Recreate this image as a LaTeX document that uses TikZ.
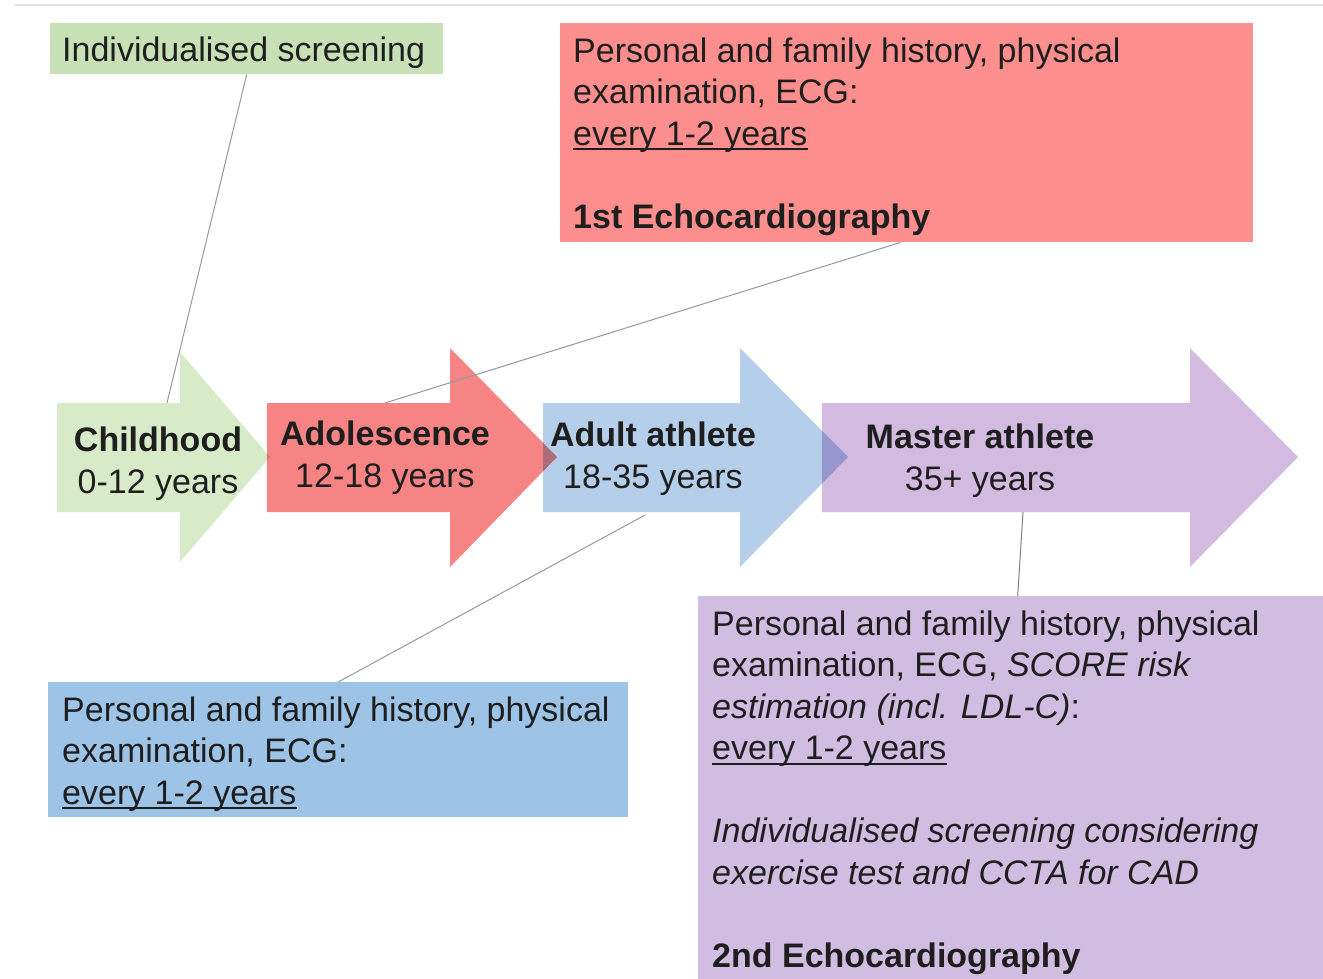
\documentclass[tikz,border=0pt]{standalone}
\usepackage{fontspec}
\setmainfont{Liberation Sans}
% underline that sits just below the baseline
\newcommand\undl[1]{\leavevmode\setbox0=\hbox{#1}\rlap{\rule[-5pt]{\wd0}{1.8pt}}\box0}
\definecolor{ink}{HTML}{1E1E1E}
\definecolor{gboxc}{HTML}{C8E0B5}
\definecolor{rboxc}{HTML}{FD8E8E}
\definecolor{bboxc}{HTML}{9DC4E6}
\definecolor{pboxc}{HTML}{D2BDE2}
\definecolor{garrow}{HTML}{D8EBC8}
\definecolor{rarrow}{HTML}{F68484}
\definecolor{barrow}{HTML}{B5CFEA}
\definecolor{parrow}{HTML}{D3BAE0}
\definecolor{leadgray}{HTML}{8F9AA8}
\definecolor{topline}{HTML}{E2E2E2}
\begin{document}
% multi-line nodes are placed by the baseline of their last line
\begin{tikzpicture}[x=1pt,y=-1pt,
  txt/.style={inner sep=0pt, text=ink, font=\fontsize{34}{41.5}\selectfont, align=left, anchor=base west},
  lbl/.style={inner sep=0pt, text=ink, font=\fontsize{34}{42}\selectfont, align=center, anchor=base},
  notebox/.style={draw=none, inner sep=0pt, anchor=north west},
  leader/.style={draw=leadgray, line width=1pt}]
\useasboundingbox (0,0) rectangle (1323,979);
\fill[white] (0,0) rectangle (1323,979);
\draw[line width=2.5pt, color=topline] (15,5) -- (1323,5);

% note boxes
\node[notebox, fill=gboxc, minimum width=393pt, minimum height=51pt] (gnote) at (50,23) {};
\node[notebox, fill=rboxc, minimum width=693pt, minimum height=219pt] (rnote) at (560,23) {};
\node[notebox, fill=bboxc, minimum width=580pt, minimum height=135pt] (bnote) at (48,682) {};
\node[notebox, fill=pboxc, minimum width=625pt, minimum height=383pt] (pnote) at (698,596) {};

% stage arrows
\begin{scope}[blend mode=multiply]
\fill[garrow] (57,403) -- (180,403) -- (180,352) -- (270,457) -- (180,562) -- (180,512) -- (57,512) -- cycle;
\fill[rarrow] (267,403) -- (450,403) -- (450,348) -- (557,457) -- (450,567) -- (450,512) -- (267,512) -- cycle;
\fill[barrow] (543,403) -- (740,403) -- (740,348) -- (848,457) -- (740,567) -- (740,512) -- (543,512) -- cycle;
\fill[parrow] (822,403) -- (1190,403) -- (1190,348) -- (1298,457) -- (1190,567) -- (1190,512) -- (822,512) -- cycle;
\end{scope}

% stage labels
\node[lbl] (child) at (158,493) {\textbf{Childhood}\\0-12 years};
\node[lbl] (adol) at (385,487) {\textbf{Adolescence}\\12-18 years};
\node[lbl] (adult) at (653,488) {\textbf{Adult athlete}\\18-35 years};
\node[lbl] (master) at (980,490) {\textbf{Master athlete}\\35+ years};

% note texts
\node[txt] (gtext) at (62,62) {Individualised screening};
\node[txt] (rtext) at (573,228) {Personal and family history, physical\\examination, ECG:\\\undl{every 1-2 years}\\[41.5pt]\textbf{1st Echocardiography}};
\node[txt] (btext) at (62,804) {Personal and family history, physical\\examination, ECG:\\\undl{every 1-2 years}};
\node[txt] (ptext) at (712,967) {Personal and family history, physical\\examination, ECG, \textit{SCORE risk}\\\textit{estimation (incl. LDL-C)}:\\\undl{every 1-2 years}\\[41.5pt]\textit{Individualised screening considering}\\\textit{exercise test and CCTA for CAD}\\[41.5pt]\textbf{2nd Echocardiography}};

% leader lines
\coordinate (childTop) at (167,403);
\coordinate (adolTop) at (385,403);
\coordinate (adultBot) at (645,515);
\coordinate (masterBot) at (1023,512);
\draw[leader] (gnote.south) -- (childTop);
\draw[leader] ([xshift=-6pt]rnote.south) -- (adolTop);
\draw[leader] (adultBot) -- (bnote.north);
\draw[leader, draw=gray] (masterBot) -- ([xshift=7pt]pnote.north);
\end{tikzpicture}
\end{document}
